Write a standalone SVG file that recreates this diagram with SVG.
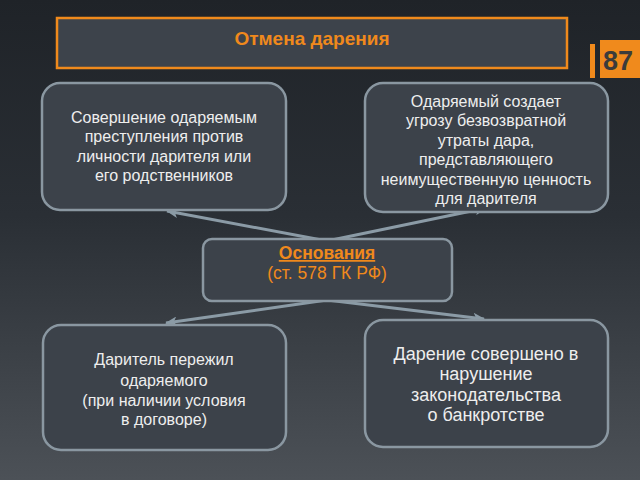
<svg xmlns="http://www.w3.org/2000/svg" width="640" height="480" viewBox="0 0 640 480">
<defs>
<linearGradient id="bg" x1="0" y1="0" x2="0" y2="1">
<stop offset="0" stop-color="#1f2328"/>
<stop offset="0.45" stop-color="#2a2f35"/>
<stop offset="1" stop-color="#4c5157"/>
</linearGradient>
<marker id="ah" viewBox="0 0 12 10" refX="11" refY="5" markerWidth="12" markerHeight="10" markerUnits="userSpaceOnUse" orient="auto">
<path d="M0,0 L12,5 L0,10 L3,5 Z" fill="#8b9ba6"/>
</marker>
<style>
.box{fill:#3c424a;stroke:#8a97a1;stroke-width:2.5}
.t{font-family:"Liberation Sans",Arial,sans-serif;font-size:16px;fill:#eeeeee;text-anchor:middle}
.t18{font-size:18px}
.o{font-family:"Liberation Sans",Arial,sans-serif;fill:#f0891c;text-anchor:middle}
.c{stroke:#8b9ba6;stroke-width:3;fill:none;marker-end:url(#ah)}
</style>
</defs>
<rect width="640" height="480" fill="url(#bg)"/>
<g id="title">
<rect x="57" y="18" width="510" height="50" fill="#3d434b" stroke="#f08a1c" stroke-width="2.5"/>
<text class="o" x="312" y="45" font-size="19" font-weight="bold">Отмена дарения</text>
</g>
<g id="page">
<rect x="590" y="44" width="5" height="34" fill="#f08a1c"/>
<rect x="600" y="40" width="40" height="38" fill="#f08a1c"/>
<text x="618" y="70" font-family="Liberation Sans,Arial,sans-serif" font-size="27" font-weight="bold" fill="#3b3b3b" text-anchor="middle">87</text>
</g>
<g id="connectors">
<line class="c" x1="327" y1="241" x2="167" y2="211"/>
<line class="c" x1="327" y1="241" x2="486" y2="208"/>
<line class="c" x1="327" y1="300" x2="166" y2="323"/>
<line class="c" x1="327" y1="300" x2="484" y2="319"/>
</g>
<g id="n1">
<rect class="box" x="42" y="83" width="244" height="127" rx="18"/>
<text class="t" x="164" y="123">Совершение одаряемым</text>
<text class="t" x="164" y="142">преступления против</text>
<text class="t" x="164" y="162">личности дарителя или</text>
<text class="t" x="164" y="181">его родственников</text>
</g>
<g id="n2">
<rect class="box" x="365" y="83" width="243" height="129" rx="18"/>
<text class="t" x="486" y="107">Одаряемый создает</text>
<text class="t" x="486" y="126">угрозу безвозвратной</text>
<text class="t" x="486" y="146">утраты дара,</text>
<text class="t" x="486" y="165">представляющего</text>
<text class="t" x="486" y="185">неимущественную ценность</text>
<text class="t" x="486" y="204">для дарителя</text>
</g>
<g id="center">
<rect x="203" y="239" width="249" height="62" rx="9" fill="#3c424a" stroke="#8a97a1" stroke-width="2.5"/>
<text class="o" x="327" y="259" font-size="17.5" font-weight="bold" text-decoration="underline">Основания</text>
<text class="o" x="327" y="279" font-size="17.5">(ст. 578 ГК РФ)</text>
</g>
<g id="n3">
<rect class="box" x="43" y="325" width="243" height="125" rx="18"/>
<text class="t" x="164" y="365">Даритель пережил</text>
<text class="t" x="164" y="386">одаряемого</text>
<text class="t" x="164" y="406">(при наличии условия</text>
<text class="t" x="164" y="425">в договоре)</text>
</g>
<g id="n4">
<rect class="box" x="365" y="320" width="243" height="127" rx="18"/>
<text class="t t18" x="486" y="360">Дарение совершено в</text>
<text class="t t18" x="486" y="380">нарушение</text>
<text class="t t18" x="486" y="401">законодательства</text>
<text class="t t18" x="486" y="421">о банкротстве</text>
</g>
</svg>
